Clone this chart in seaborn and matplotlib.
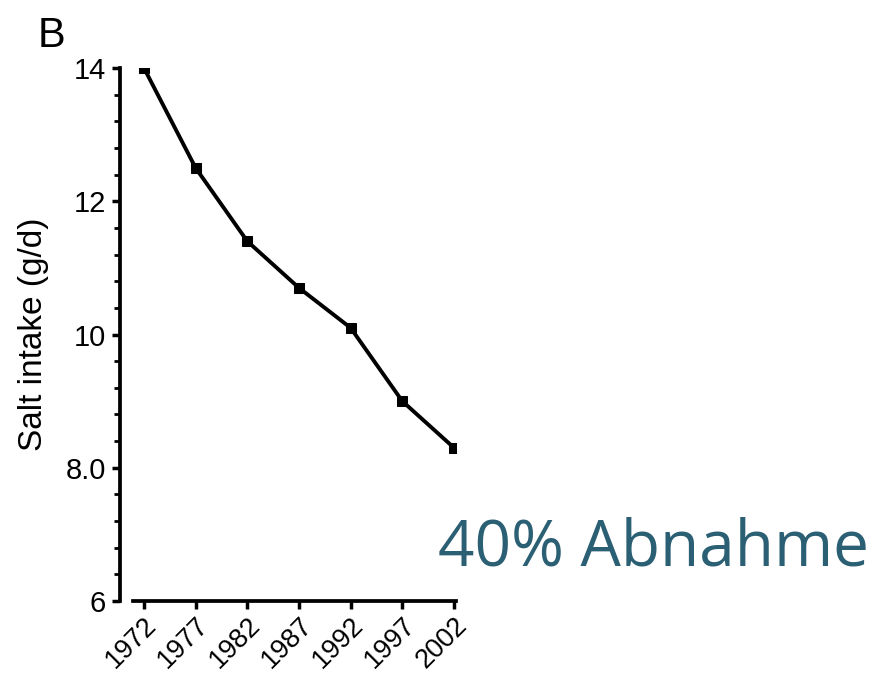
import matplotlib
matplotlib.use("Agg")
import matplotlib.pyplot as plt
import seaborn as sns
import pandas as pd
from matplotlib.ticker import MultipleLocator

years = [1972, 1977, 1982, 1987, 1992, 1997, 2002]
salt_intake = [14.0, 12.5, 11.4, 10.7, 10.1, 9.0, 8.3]
ytick_values = [6, 8, 10, 12, 14]
ytick_labels = ["6", "8.0", "10", "12", "14"]

df = pd.DataFrame({"year": years, "salt": salt_intake})

sns.set_style("ticks")
plt.rcParams["font.family"] = ["Liberation Sans", "DejaVu Sans"]
plt.rcParams["text.color"] = "black"
plt.rcParams["axes.labelcolor"] = "black"

fig = plt.figure(figsize=(8.77, 6.77), dpi=100)
ax = fig.add_axes([120 / 877, 76 / 677, 336 / 877, 533 / 677])

sns.lineplot(data=df, x="year", y="salt", ax=ax, color="black", linewidth=2.8,
             marker="s", markersize=7, markeredgecolor="black")

ax.set_xlim(1969.68, 2002.2)
ax.set_ylim(6, 14)
ax.set_xticks(years)
ax.set_xticklabels([str(y) for y in years], rotation=45, ha="right",
                   rotation_mode="anchor", fontsize=19.5)
ax.set_yticks(ytick_values)
ax.set_yticklabels(ytick_labels, fontsize=21)
ax.yaxis.set_minor_locator(MultipleLocator(0.4))

for side in ["top", "right"]:
    ax.spines[side].set_visible(False)
for side in ["left", "bottom"]:
    ax.spines[side].set_linewidth(2.7)
    ax.spines[side].set_color("black")
ax.spines["bottom"].set_bounds(1970.9, 2002.2)

ax.tick_params(axis="both", which="major", direction="out", length=6, width=2.5,
               color="black", labelcolor="black", pad=4)
ax.tick_params(axis="x", which="major", pad=2)
ax.tick_params(axis="y", which="minor", direction="out", length=4, width=2,
               color="black")

ax.set_xlabel("")
ax.set_ylabel("Salt intake (g/d)", fontsize=24, labelpad=12, color="black")

fig.text(38 / 877, 1 - 47 / 677, "B", fontsize=30, color="black", ha="left",
         va="baseline", family=["Liberation Sans", "DejaVu Sans"])
fig.text(438 / 877, 1 - 566 / 677, "40% Abnahme", fontsize=46, color="#2b5f73",
         ha="left", va="baseline", family=["Open Sans", "DejaVu Sans"])

fig.savefig("out.png", dpi=100)
